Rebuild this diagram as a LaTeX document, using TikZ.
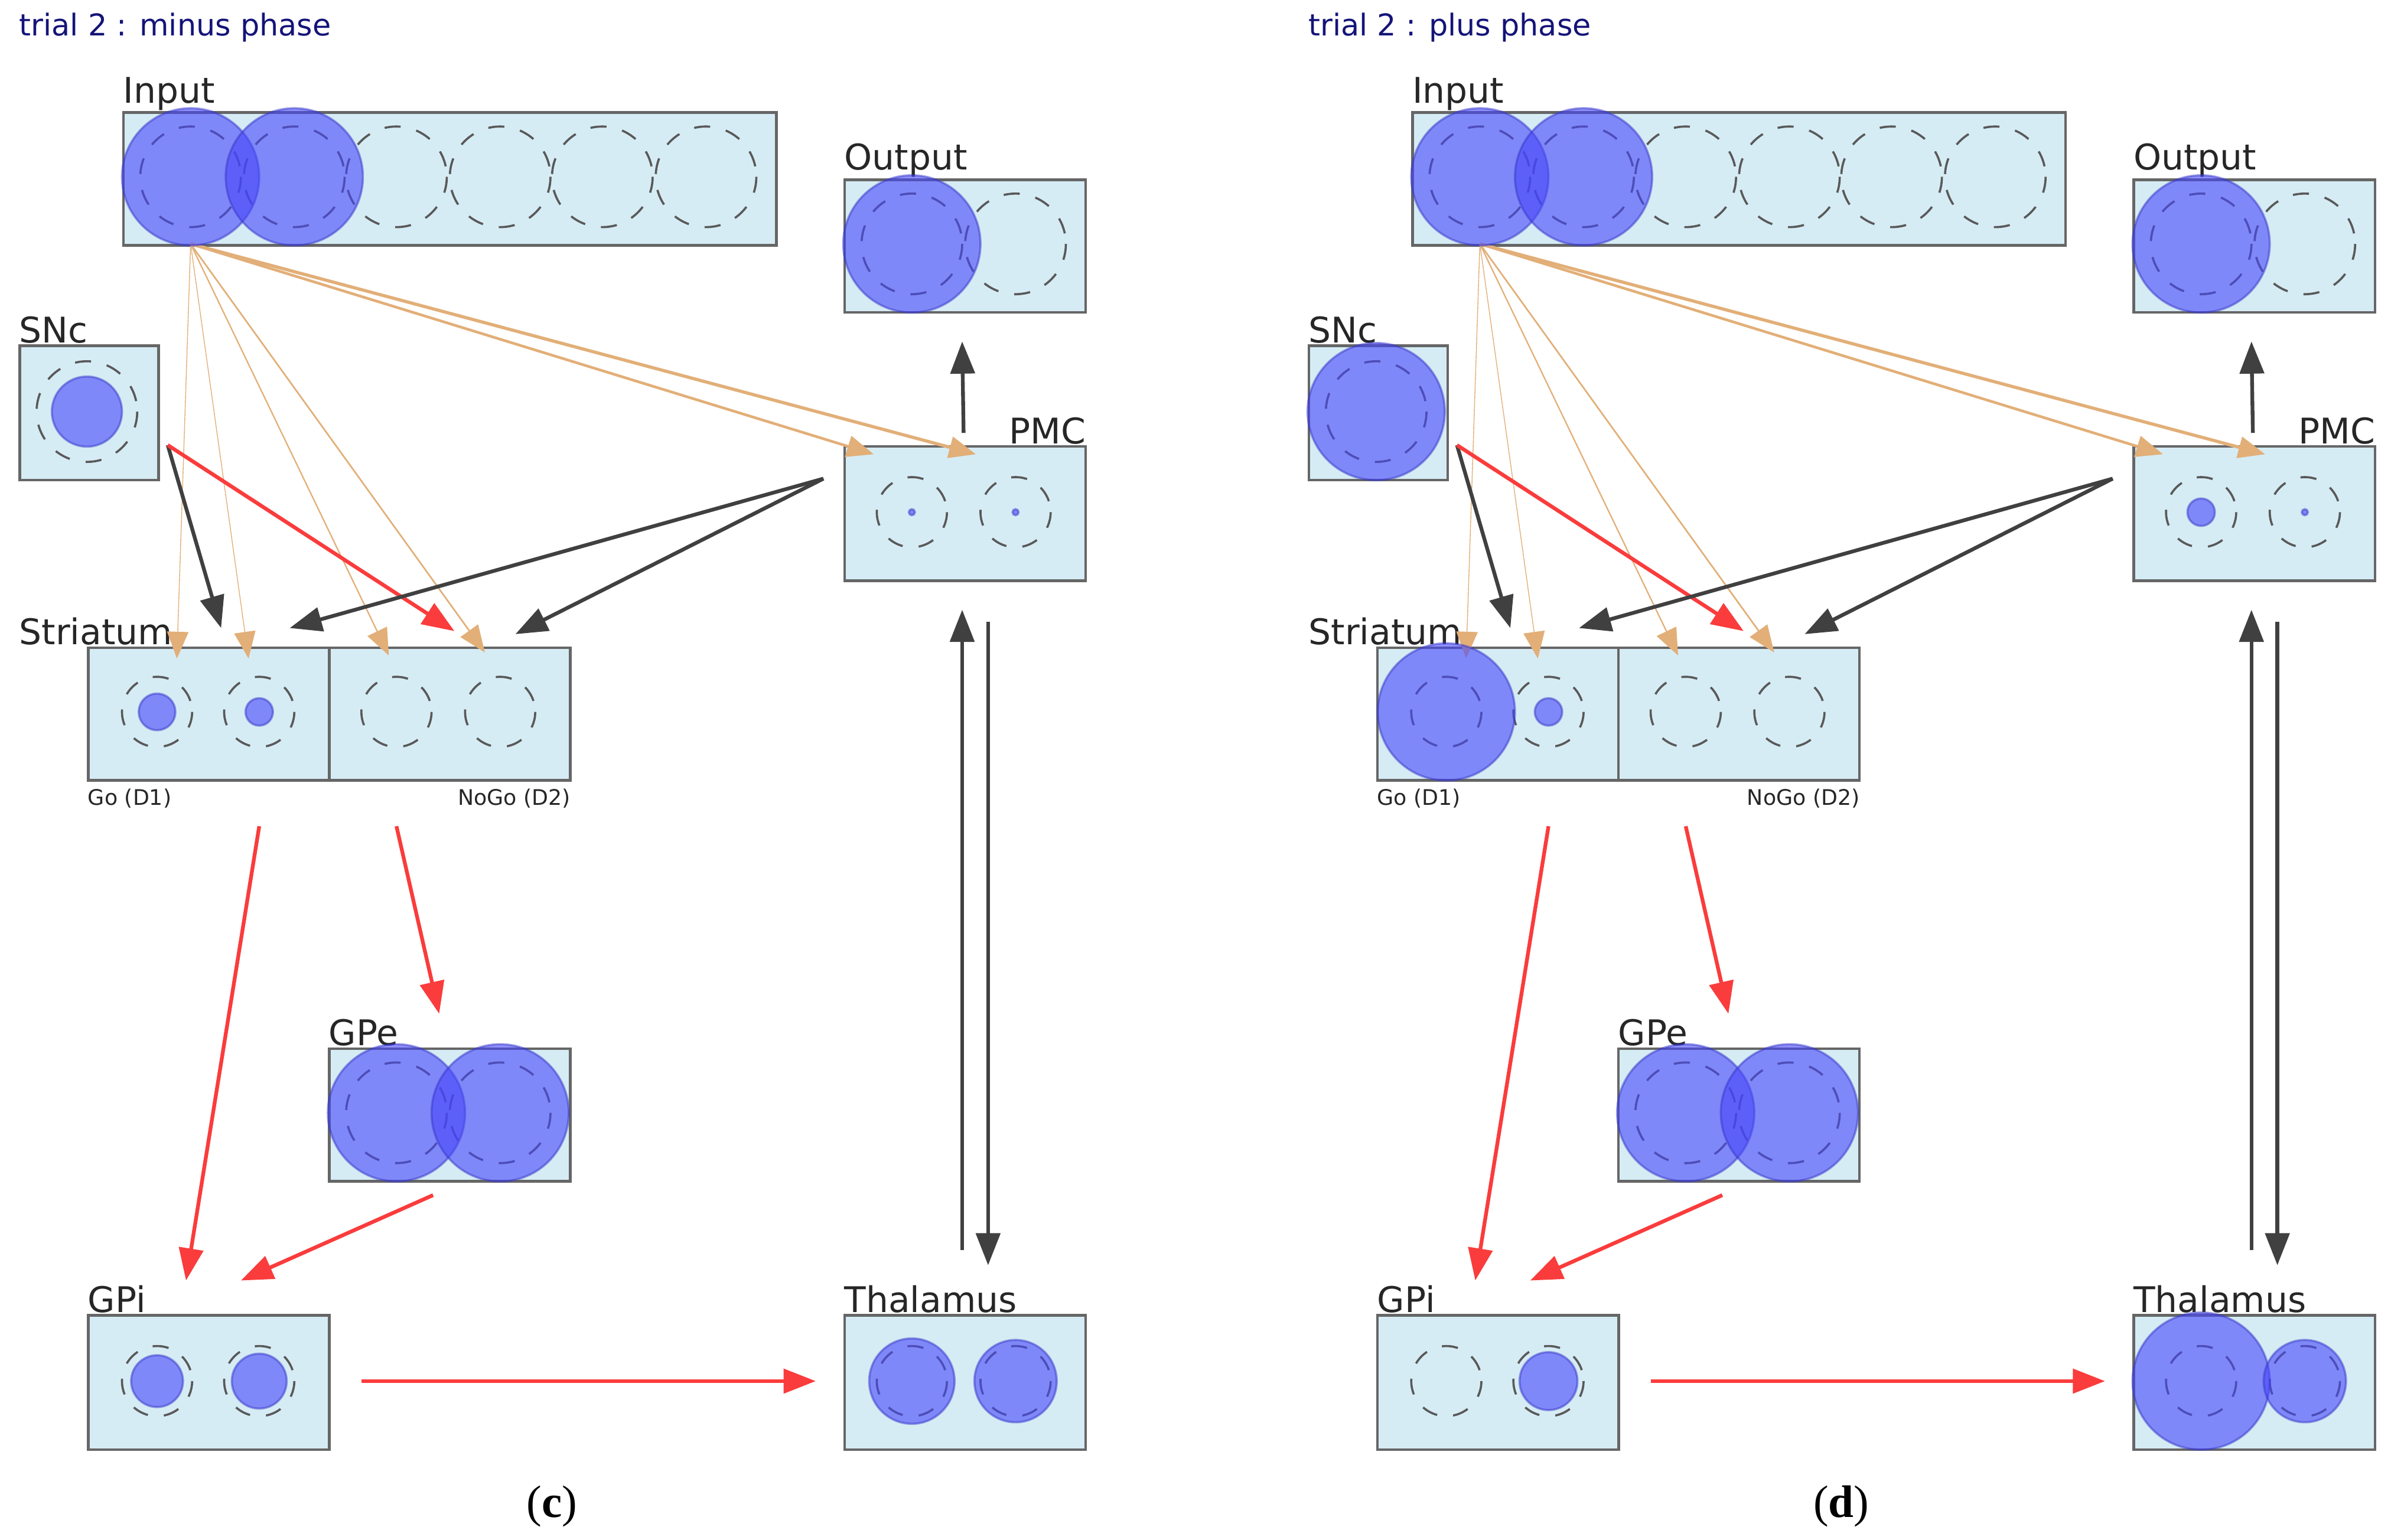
\documentclass[tikz,border=0pt]{standalone}
\usepackage{fontspec}
\setmainfont{DejaVu Sans}
\newfontfamily\capfont{Liberation Serif}
\usetikzlibrary{arrows.meta}
\definecolor{boxbg}{RGB}{214,236,245}
\definecolor{unitfill}{RGB}{70,70,250}
\definecolor{tanarr}{RGB}{226,175,120}
\definecolor{redarr}{RGB}{250,60,60}
\definecolor{titlecol}{RGB}{20,20,120}
\tikzset{
  layer/.style={draw=gray!80!black, fill=boxbg, line width=0.5pt, inner sep=0pt},
  lbl/.style={anchor=south west, inner sep=0pt, font=\fontsize{6.6}{7}\selectfont, text=black!85},
  sub/.style={inner sep=0pt, font=\fontsize{4}{5}\selectfont, text=black!85},
  unit/.style={draw=gray!70!black, dashed, line width=0.4pt},
  act/.style={fill=unitfill, fill opacity=0.6, draw=unitfill!80!black, draw opacity=0.5, line width=0.4pt},
  tan/.style={draw=tanarr, line width=#1, -{Triangle[length=5pt,width=4pt]}, fill=tanarr},
  blk/.style={draw=black!75, line width=0.7pt, -{Triangle[length=6pt,width=4.5pt]}},
  red/.style={draw=redarr, line width=0.7pt, -{Triangle[length=6pt,width=4.5pt]}}
}
% one panel: layers, empty units, connectors
\newcommand{\panelbase}[2]{
  \node[anchor=west, inner sep=0pt, font=\fontsize{5.6}{6}\selectfont, text=titlecol] (title) at (12,18) {#1};
  \node[layer, minimum width=4.28cm, minimum height=0.87cm, anchor=north west] (in) at (80,73) {};
  \node[layer, minimum width=1.58cm, minimum height=0.87cm, anchor=north west] (out) at (553,117) {};
  \node[layer, minimum width=0.91cm, minimum height=0.88cm, anchor=north west] (snc) at (12,226) {};
  \node[layer, minimum width=1.58cm, minimum height=0.88cm, anchor=north west] (pmc) at (553,292) {};
  \node[layer, minimum width=1.58cm, minimum height=0.87cm, anchor=north west] (go) at (57,424) {};
  \node[layer, minimum width=1.58cm, minimum height=0.87cm, anchor=north west] (nogo) at (215,424) {};
  \node[layer, minimum width=1.58cm, minimum height=0.87cm, anchor=north west] (gpe) at (215,687) {};
  \node[layer, minimum width=1.58cm, minimum height=0.88cm, anchor=north west] (gpi) at (57,862) {};
  \node[layer, minimum width=1.58cm, minimum height=0.88cm, anchor=north west] (thal) at (553,862) {};
  \node[lbl] at (in.north west) {Input};
  \node[lbl] at (out.north west) {Output};
  \node[lbl] at (snc.north west) {SNc};
  \node[lbl, anchor=south east] at (pmc.north east) {PMC};
  \node[lbl] at (12,424) {Striatum};
  \node[lbl] at (gpe.north west) {GPe};
  \node[lbl] at (gpi.north west) {GPi};
  \node[lbl] at (thal.north west) {Thalamus};
  \node[sub, anchor=north west] at ([yshift=-0.04cm]go.south west) {Go (D1)};
  \node[sub, anchor=north east] at ([yshift=-0.04cm]nogo.south east) {NoGo (D2)};
  \foreach \x in {125,193,260,328,395,463} \draw[unit] (\x,116) circle (33);
  \foreach \x in {598,666} {
    \draw[unit] (\x,160) circle (33);
    \draw[unit] (\x,336) circle (23);
  }
  \draw[unit] (57,270) circle (33);
  \foreach \x in {103,170,260,328} \draw[unit] (\x,467) circle (23);
  \foreach \x in {260,328} \draw[unit] (\x,730) circle (33);
  \foreach \x in {103,170} \draw[unit] (\x,906) circle (23);
  \foreach \x in {598,666} \draw[unit] (\x,906) circle (23);
  \node[font=\capfont\fontsize{8.5}{9}\selectfont] (cap) at (362,988) {(\textbf{#2})};
  % connectors
  \coordinate (inS) at (125,160);
  \foreach \x/\y/\w in {116/432/0.15pt,163/432/0.15pt,255/430/0.25pt,318/428/0.3pt,573/298/0.5pt,640/298/0.6pt}
    \draw[tan=\w] (inS) -- (\x,\y);
  \coordinate (sncE) at (110,292);
  \draw[blk] (sncE) -- (145,412);
  \draw[red] (sncE) -- (298,414);
  \coordinate (pmcW) at (540,314);
  \draw[blk] (pmcW) -- (190,412);
  \draw[blk] (pmcW) -- (338,416);
  \draw[blk] ([xshift=-0.01cm]pmc.north |- 0,284) -- (631,224);
  \draw[blk] (631,820) -- (631,400);
  \draw[blk] (648,408) -- (648,830);
  \draw[red] (170,542) -- (122,840);
  \draw[red] (260,542) -- (288,665);
  \draw[red] (284,784) -- (158,840);
  \draw[red] (237,906) -- (535,906);
}
\begin{document}
\begin{tikzpicture}[x=0.01cm, y=-0.01cm]
\useasboundingbox (0,0) rectangle (1568,1010);
% minus phase
\begin{scope}
  \panelbase{trial 2 : minus phase}{c}
  \fill[act] (125,116) circle (45);
  \fill[act] (193,116) circle (45);
  \fill[act] (598,160) circle (45);
  \fill[act] (57,270) circle (23);
  \fill[act] (598,336) circle (2);
  \fill[act] (666,336) circle (2);
  \fill[act] (103,467) circle (12);
  \fill[act] (170,467) circle (9);
  \fill[act] (260,730) circle (45);
  \fill[act] (328,730) circle (45);
  \fill[act] (103,906) circle (17);
  \fill[act] (170,906) circle (18);
  \fill[act] (598,906) circle (28);
  \fill[act] (666,906) circle (27);
\end{scope}
% plus phase
\begin{scope}[xshift=8.45cm]
  \panelbase{trial 2 : plus phase}{d}
  \fill[act] (125,116) circle (45);
  \fill[act] (193,116) circle (45);
  \fill[act] (598,160) circle (45);
  \fill[act] (57,270) circle (45);
  \fill[act] (598,336) circle (9);
  \fill[act] (666,336) circle (2);
  \fill[act] (103,467) circle (45);
  \fill[act] (170,467) circle (9);
  \fill[act] (260,730) circle (45);
  \fill[act] (328,730) circle (45);
  \fill[act] (170,906) circle (19);
  \fill[act] (598,906) circle (45);
  \fill[act] (666,906) circle (27);
\end{scope}
\end{tikzpicture}
\end{document}
